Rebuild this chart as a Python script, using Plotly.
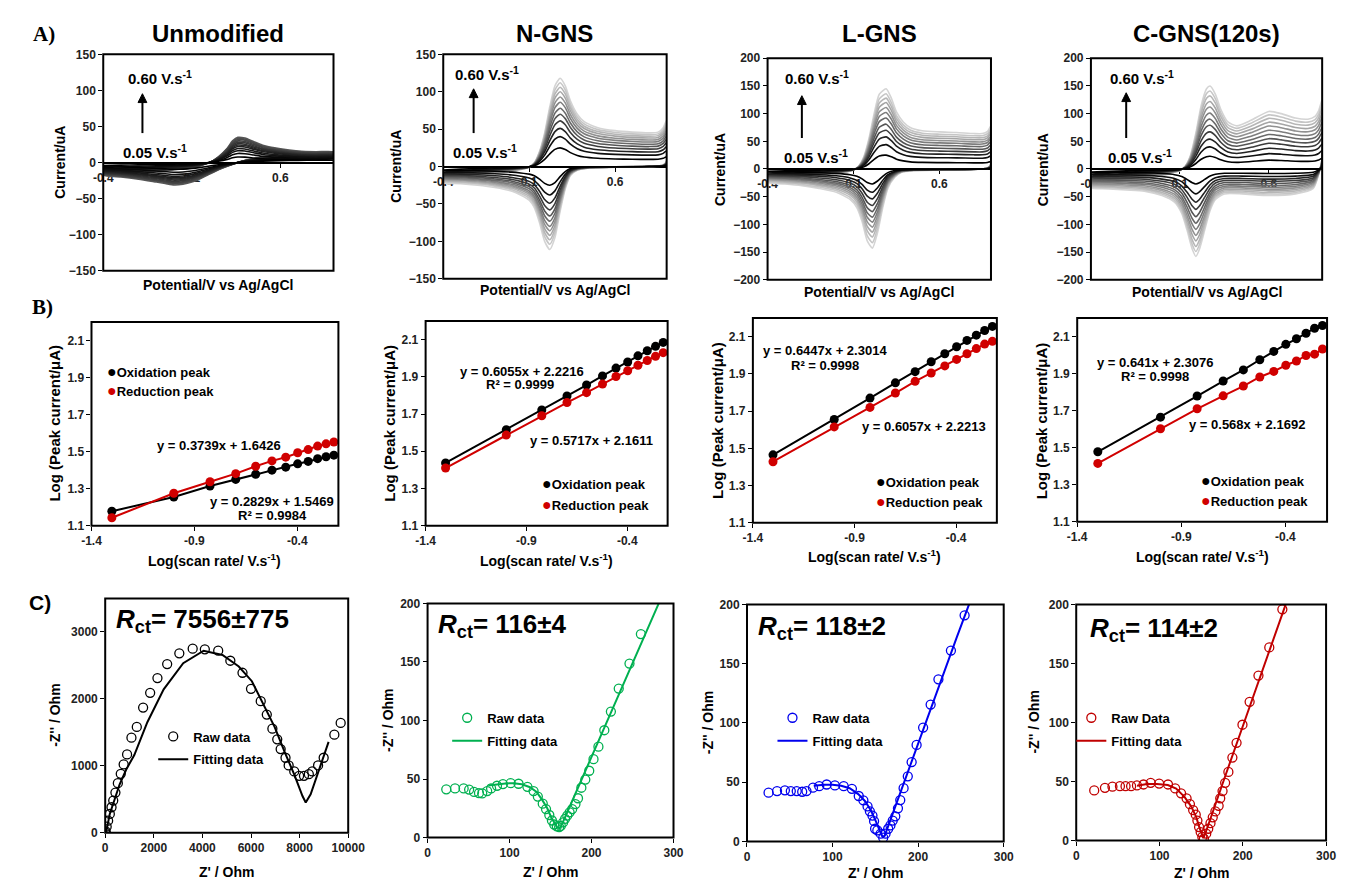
import numpy as np
import plotly.graph_objects as go

# page is 1355x890; the html body keeps its default 8px margin
PAGE_W, PAGE_H, OFF = 1355, 890, 8
W, H = PAGE_W - 2 * OFF, PAGE_H - 2 * OFF
FONT = "Liberation Sans, Arial, Helvetica, sans-serif"
SERIF = "Liberation Serif, Times New Roman, serif"

# ======================= DATA =======================
cv_titles = ["Unmodified", "N-GNS", "L-GNS", "C-GNS(120s)"]
rate_low_label = "0.05 V.s<sup>-1</sup>"
rate_high_label = "0.60 V.s<sup>-1</sup>"

# --- A) CV traces of the fastest scan (0.60 V/s) (uA)
unmod_E_fwd = [-0.4, -0.3, -0.2, -0.1, 0.0, 0.1, 0.15, 0.2, 0.25, 0.3, 0.33, 0.36, 0.4, 0.45, 0.5, 0.6, 0.7, 0.8, 0.9]
unmod_I_fwd = [-18, -16, -14, -12, -10, -7, -4, 0, 8, 20, 30, 35, 34, 29, 24, 19, 16, 15, 15]
unmod_E_rev = [0.9, 0.8, 0.7, 0.6, 0.5, 0.4, 0.3, 0.25, 0.2, 0.15, 0.1, 0.05, 0.0, -0.05, -0.1, -0.2, -0.3, -0.4]
unmod_I_rev = [12, 11, 10, 9, 7, 3, -5, -10, -16, -22, -27, -30, -31, -29, -27, -23, -20, -18]
unmod_ox_peaks = [8, 13, 17, 20, 23, 25, 27, 29, 31, 33, 34.5, 36]
unmod_red_peaks = [9, 13, 16, 18.5, 20.5, 22, 23.5, 25, 26.5, 27.5, 28.5, 30]

ngns_E_fwd = [-0.4, -0.3, -0.2, -0.1, 0.0, 0.05, 0.1, 0.13, 0.16, 0.19, 0.22, 0.25, 0.28, 0.31, 0.34, 0.38, 0.42, 0.5, 0.6, 0.7, 0.8, 0.85, 0.88, 0.9]
ngns_I_fwd = [-22, -16, -12, -9, -6, -4, -1, 5, 20, 45, 80, 108, 118, 108, 88, 70, 60, 52, 48, 46, 45, 46, 52, 62]
ngns_E_rev = [0.9, 0.88, 0.8, 0.6, 0.45, 0.38, 0.34, 0.31, 0.28, 0.25, 0.22, 0.19, 0.16, 0.13, 0.1, 0.05, 0.0, -0.1, -0.2, -0.3, -0.4]
ngns_I_rev = [8, 2, 0, -1, -2, -5, -12, -30, -60, -95, -111, -100, -75, -55, -45, -38, -33, -28, -25, -23, -22]
ngns_ox_peaks = [25, 40, 51, 61, 70, 78, 86, 93, 100, 106, 112, 118]
ngns_red_peaks = [25, 38, 49, 58, 66, 73, 80, 86, 92, 98, 104, 111]

lgns_E_fwd = [-0.4, -0.3, -0.2, -0.1, 0.0, 0.05, 0.1, 0.13, 0.16, 0.19, 0.22, 0.25, 0.29, 0.32, 0.35, 0.39, 0.43, 0.5, 0.6, 0.7, 0.8, 0.85, 0.88, 0.9]
lgns_I_fwd = [-25, -20, -16, -13, -9, -6, -2, 5, 22, 55, 100, 135, 145, 128, 103, 85, 75, 69, 67, 66, 64, 64, 68, 78]
lgns_E_rev = [0.9, 0.88, 0.8, 0.6, 0.45, 0.38, 0.34, 0.3, 0.27, 0.24, 0.21, 0.18, 0.15, 0.12, 0.08, 0.0, -0.1, -0.2, -0.3, -0.4]
lgns_I_rev = [10, 2, -1, -2, -3, -6, -15, -35, -70, -115, -143, -130, -95, -70, -55, -42, -35, -30, -27, -25]
lgns_ox_peaks = [25, 44, 58, 70, 81, 92, 102, 111, 120, 128, 136, 145]
lgns_red_peaks = [27, 42, 54, 66, 77, 87, 96, 105, 114, 123, 133, 143]

cgns_E_fwd = [-0.4, -0.3, -0.2, -0.1, 0.0, 0.05, 0.1, 0.13, 0.16, 0.19, 0.22, 0.25, 0.27, 0.3, 0.33, 0.37, 0.42, 0.5, 0.6, 0.67, 0.75, 0.82, 0.86, 0.88, 0.9]
cgns_I_fwd = [-35, -28, -22, -17, -12, -8, -3, 5, 25, 65, 115, 145, 150, 135, 108, 85, 78, 88, 104, 100, 92, 90, 95, 105, 125]
cgns_E_rev = [0.9, 0.88, 0.85, 0.75, 0.6, 0.45, 0.35, 0.3, 0.27, 0.24, 0.21, 0.19, 0.17, 0.14, 0.11, 0.07, 0.0, -0.1, -0.2, -0.3, -0.4]
cgns_I_rev = [20, -10, -35, -45, -48, -45, -45, -55, -75, -110, -145, -158, -145, -110, -80, -60, -48, -40, -38, -36, -35]
cgns_ox_peaks = [23, 40, 54, 67, 79, 90, 101, 112, 122, 132, 141, 150]
cgns_red_peaks = [27, 45, 60, 73, 86, 98, 109, 120, 130, 140, 149, 158]

gray_unmod = [0, 8, 16, 24, 32, 40, 48, 56, 64, 72, 80, 88]
gray_gns = [0, 15, 35, 60, 85, 105, 125, 145, 165, 182, 198, 212]

# --- B) log peak current vs log scan rate
log_scan = [-1.301, -1.000, -0.824, -0.699, -0.602, -0.523, -0.456, -0.398, -0.347, -0.301, -0.260, -0.222]
unmod_log_ox = [1.178, 1.255, 1.314, 1.350, 1.378, 1.400, 1.416, 1.434, 1.447, 1.462, 1.472, 1.481]
unmod_log_red = [1.143, 1.275, 1.337, 1.381, 1.421, 1.450, 1.470, 1.494, 1.511, 1.530, 1.542, 1.552]
ngns_log_ox = [1.437, 1.616, 1.722, 1.797, 1.856, 1.905, 1.947, 1.980, 2.013, 2.040, 2.064, 2.085]
ngns_log_red = [1.410, 1.587, 1.691, 1.762, 1.815, 1.861, 1.902, 1.933, 1.962, 1.988, 2.010, 2.030]
lgns_log_ox = [1.465, 1.655, 1.770, 1.852, 1.912, 1.965, 2.008, 2.046, 2.080, 2.108, 2.133, 2.155]
lgns_log_red = [1.428, 1.615, 1.720, 1.797, 1.860, 1.905, 1.943, 1.978, 2.008, 2.036, 2.060, 2.075]
cgns_log_ox = [1.478, 1.665, 1.779, 1.860, 1.920, 1.975, 2.020, 2.058, 2.088, 2.118, 2.145, 2.160]
cgns_log_red = [1.415, 1.602, 1.710, 1.780, 1.833, 1.882, 1.912, 1.945, 1.968, 1.998, 2.005, 2.033]

unmod_eq = ["y = 0.2829x + 1.5469", "R² = 0.9984", "y = 0.3739x + 1.6426"]
ngns_eq = ["y = 0.6055x + 2.2216", "R² = 0.9999", "y = 0.5717x + 2.1611"]
lgns_eq = ["y = 0.6447x + 2.3014", "R² = 0.9998", "y = 0.6057x + 2.2213"]
cgns_eq = ["y = 0.641x + 2.3076", "R² = 0.9998", "y = 0.568x + 2.1692"]

# --- C) Nyquist plots (Z', -Z'')
unmod_raw_z = [5, 20, 60, 120, 190, 260, 330, 420, 520, 640, 760, 900, 1080, 1300, 1560, 1850, 2150, 2550, 3050, 3600, 4100, 4650, 5150, 5650, 6000, 6400, 6650, 6880, 7080, 7220, 7420, 7550, 7780, 7980, 8180, 8380, 8520, 8760, 8990, 9430, 9690]
unmod_raw_zi = [5, 20, 90, 180, 280, 380, 480, 600, 740, 880, 1020, 1170, 1420, 1580, 1870, 2090, 2310, 2520, 2680, 2750, 2740, 2720, 2570, 2390, 2150, 1965, 1765, 1555, 1395, 1250, 1120, 1005, 915, 850, 850, 875, 915, 1005, 1120, 1465, 1640]
unmod_fit_z = [0, 53, 188, 363, 591, 860, 1197, 1734, 2406, 3210, 4050, 4825, 5497, 6036, 6572, 6975, 7379, 7782, 8118, 8252, 8454, 8857, 9193]
unmod_fit_zi = [0, 34, 279, 475, 720, 941, 1161, 1651, 2142, 2533, 2720, 2656, 2484, 2264, 1871, 1577, 1210, 867, 548, 451, 573, 1014, 1357]

ngns_raw_z = [22.8, 33.5, 44.0, 50.7, 56.7, 62.7, 66.7, 72.7, 77.5, 84.7, 91.9, 101.4, 111.0, 121.8, 129.3, 134.5, 140.5, 144.5, 148.5, 151.7, 154.5, 157.7, 160.5, 162.5, 165.3, 167.7, 170.4, 173.3, 176.4, 180.4, 183.5, 187.6, 192.4, 197.2, 202.4, 208.4, 215.6, 223.6, 233.2, 246.3, 260.2]
ngns_raw_zi = [41.2, 42.0, 42.0, 41.0, 39.0, 38.0, 37.7, 39.7, 42.0, 44.3, 45.7, 46.5, 46.0, 43.4, 39.7, 35.0, 29.0, 24.4, 19.3, 14.6, 11.2, 9.6, 9.0, 10.0, 13.0, 16.0, 18.8, 21.6, 24.4, 28.6, 33.6, 42.6, 49.6, 57.1, 67.0, 77.7, 91.7, 107.6, 127.3, 148.6, 173.8]
ngns_fit_z = [74, 85, 95, 105, 115, 125, 133, 140, 146, 151, 155, 158, 160.5, 163, 170, 180, 200, 220, 240, 260, 282]
ngns_fit_zi = [44.5, 45.5, 46.3, 46.5, 45.5, 43, 39, 32, 25, 17, 12, 9, 8, 10, 21, 37, 69, 101, 133, 165, 200]

lgns_raw_z = [25.2, 35.1, 44.3, 51.2, 58.1, 64.5, 69.5, 77.1, 84.4, 93.1, 102.7, 113.0, 122.6, 130.6, 136.0, 140.9, 143.6, 146.6, 148.5, 149.7, 152.3, 156.2, 159.2, 161.9, 165.0, 167.6, 170.3, 173.3, 176.4, 179.1, 183.0, 187.9, 192.4, 198.2, 205.8, 214.6, 223.7, 238.3, 254.3]
lgns_raw_zi = [41.2, 42.6, 43.2, 42.6, 42.6, 42.0, 42.6, 45.4, 46.7, 48.1, 47.3, 46.7, 44.5, 38.4, 34.8, 29.6, 25.5, 21.9, 17.2, 10.8, 9.4, 6.6, 3.3, 6.6, 10.8, 13.6, 17.7, 21.3, 28.0, 35.0, 45.0, 55.0, 67.0, 81.5, 96.1, 115.5, 136.8, 161.1, 190.8]
lgns_fit_z = [78, 90, 100, 110, 120, 130, 138, 145, 150, 154, 157, 159, 161, 165, 175, 190, 210, 230, 245, 259.5]
lgns_fit_zi = [47, 48, 48, 47, 45, 40, 34, 26, 18, 11, 6, 4, 5, 13, 33, 63, 103, 142, 172, 200]

cgns_raw_z = [21.6, 34.5, 43.5, 52.5, 59.2, 65.9, 72.9, 80.8, 89.4, 99.6, 110.2, 118.8, 125.9, 132.5, 136.5, 140.4, 143.5, 145.5, 147.5, 149.4, 151.4, 153.3, 156.1, 158.5, 161.2, 163.9, 167.1, 171.0, 172.9, 175.7, 178.8, 182.7, 187.5, 192.5, 199.6, 208.2, 218.8, 231.8, 247.5]
cgns_raw_zi = [42.5, 44.7, 45.6, 46.1, 46.1, 46.1, 46.7, 47.5, 48.9, 48.3, 47.5, 44.2, 40.0, 35.8, 30.8, 25.8, 21.9, 16.9, 11.4, 7.2, 3.1, 1.7, 5.8, 10.0, 14.7, 19.7, 24.7, 29.4, 35.8, 41.9, 48.9, 58.1, 70.3, 82.8, 98.1, 117.5, 139.7, 163.6, 195.8]
cgns_fit_z = [73, 85, 97, 110, 120, 130, 138, 144, 148, 151, 152.6, 155, 165, 180, 200, 220, 240, 251.4]
cgns_fit_zi = [46.5, 47.8, 48, 47, 44, 37, 29, 20, 11, 5, 2, 6, 26.8, 56.8, 96.8, 136.8, 176.8, 199.8]

rct_labels = ["7556±775", "116±4", "118±2", "114±2"]
raw_names = ["Raw data", "Raw data", "Raw data", "Raw Data"]
eis_colors = ["#000000", "#00b050", "#0000ee", "#c00000"]

# ======================= LAYOUT GEOMETRY (page pixels) =======================
frames_A = [(95, 330, 48, 268), (442, 670, 48, 276), (773, 1001, 52, 277), (1103, 1339, 52, 277)]
frames_B = [(83, 335, 320, 527), (424, 671, 319, 527), (758, 1007, 316, 524), (1089, 1344, 316, 523)]
frames_C = [(97, 345, 601, 839), (426, 677, 606, 844), (752, 1014, 607, 848), (1088, 1343, 607, 847)]


def fx(x):
    return (x - OFF) / W


def fy(y):
    return 1 - (y - OFF) / H


def xn(p):
    return "x" if p == 1 else f"x{p}"


def yn(p):
    return "y" if p == 1 else f"y{p}"


def xk(p):
    return "xaxis" if p == 1 else f"xaxis{p}"


def yk(p):
    return "yaxis" if p == 1 else f"yaxis{p}"


fig = go.Figure()
layout = {}
annotations = []
shapes = []
TICKFONT = dict(family=FONT, size=12, color="#222222", weight="bold")


def ann(text, x, y, size=13, xanchor="center", yanchor="middle", angle=0,
        family=FONT, color="black", bold=True):
    annotations.append(dict(text=text, x=fx(x), y=fy(y), xref="paper", yref="paper",
                            xanchor=xanchor, yanchor=yanchor, textangle=angle,
                            showarrow=False,
                            font=dict(family=family, size=size, color=color,
                                      weight="bold" if bold else "normal")))


def frame(p):
    shapes.append(dict(type="rect", xref=f"{xn(p)} domain", yref=f"{yn(p)} domain",
                       x0=0, x1=1, y0=0, y1=1, line=dict(color="black", width=2),
                       layer="above"))


def up_arrow(x, y_tail, y_head):
    shapes.append(dict(type="line", xref="paper", yref="paper",
                       x0=fx(x), x1=fx(x), y0=fy(y_tail), y1=fy(y_head + 6),
                       line=dict(color="black", width=2), layer="above"))
    path = (f"M {fx(x - 4.5)},{fy(y_head + 9)} L {fx(x)},{fy(y_head)} "
            f"L {fx(x + 4.5)},{fy(y_head + 9)} Z")
    shapes.append(dict(type="path", xref="paper", yref="paper", path=path,
                       fillcolor="black", line=dict(color="black", width=1), layer="above"))


# ======================= ROW A =======================
cv_sets = [
    (unmod_E_fwd, unmod_I_fwd, unmod_E_rev, unmod_I_rev, unmod_ox_peaks, unmod_red_peaks, gray_unmod, (-150, 150)),
    (ngns_E_fwd, ngns_I_fwd, ngns_E_rev, ngns_I_rev, ngns_ox_peaks, ngns_red_peaks, gray_gns, (-150, 150)),
    (lgns_E_fwd, lgns_I_fwd, lgns_E_rev, lgns_I_rev, lgns_ox_peaks, lgns_red_peaks, gray_gns, (-200, 200)),
    (cgns_E_fwd, cgns_I_fwd, cgns_E_rev, cgns_I_rev, cgns_ox_peaks, cgns_red_peaks, gray_gns, (-200, 200)),
]
arrow_pos = [(135, 128, 88), (473, 128, 83), (808, 133, 90), (1139, 133, 87)]
hi_lbl = [(153, 72), (487, 67), (823, 72), (1155, 72)]
lo_lbl = [(148, 147), (485, 147), (822, 152), (1153, 152)]
ytitle_A = [(50, 158), (393, 162), (725, 165), (1055, 165)]
xtitle_A_y = [282, 287, 290, 290]
title_y = [27, 27, 27, 27]

for k in range(4):
    p = k + 1
    Ef, If, Er, Ir, oxp, redp, grays, yr = cv_sets[k]
    l, r, t, b = frames_A[k]
    for i in reversed(range(12)):
        sf = oxp[i] / oxp[-1]
        sr = redp[i] / redp[-1]
        xs = list(Ef) + list(Er)
        ys = list(np.array(If) * sf) + list(np.array(Ir) * sr)
        g = grays[i]
        fig.add_trace(go.Scatter(x=xs, y=ys, mode="lines", xaxis=xn(p), yaxis=yn(p),
                                 line=dict(color=f"rgb({g},{g},{g})", width=1.6,
                                           shape="spline", smoothing=0.6),
                                 showlegend=False, hoverinfo="skip"))
    zero_frac = fy(t + (yr[1] - 0) / (yr[1] - yr[0]) * (b - t))
    layout[xk(p)] = dict(domain=[fx(l), fx(r)], range=[-0.4, 0.9],
                         tickvals=[-0.4, 0.1, 0.6], ticktext=["-0.4", "0.1", "0.6"],
                         anchor="free", position=zero_frac, showline=True,
                         linecolor="black", linewidth=2, ticks="outside", ticklen=4,
                         tickcolor="black", tickfont=TICKFONT, showgrid=False,
                         zeroline=False, layer="below traces")
    layout[yk(p)] = dict(domain=[fy(b), fy(t)], range=list(yr), dtick=50, tick0=0,
                         anchor=xn(p), showline=False, ticks="outside", ticklen=4,
                         tickcolor="black", tickfont=TICKFONT, showgrid=False,
                         zeroline=False)
    frame(p)
    ann(cv_titles[k], (l + r) / 2, title_y[k], size=24)
    ann("Current/uA", ytitle_A[k][0], ytitle_A[k][1], size=14, angle=-90)
    ann("Potential/V vs Ag/AgCl", (l + r) / 2, xtitle_A_y[k], size=14)
    ann(rate_high_label, hi_lbl[k][0], hi_lbl[k][1], size=15)
    ann(rate_low_label, lo_lbl[k][0], lo_lbl[k][1], size=15)
    up_arrow(*arrow_pos[k])

# ======================= ROW B =======================
b_sets = [
    (unmod_log_ox, unmod_log_red, unmod_eq),
    (ngns_log_ox, ngns_log_red, ngns_eq),
    (lgns_log_ox, lgns_log_red, lgns_eq),
    (cgns_log_ox, cgns_log_red, cgns_eq),
]
eq_pos = [
    [(267, 502), (268, 517), (213, 445)],
    [(522, 370), (520, 384), (593, 440)],
    [(832, 349), (832, 364), (933, 426)],
    [(1168, 361), (1168, 375), (1262, 424)],
]
leg_B = [(104, 370, 390), (548, 484, 505), (889, 482, 502), (1220, 481, 501)]
ytitle_B = [(45, 423), (387, 423), (722, 420), (1052, 420)]
xtitle_B_y = [562, 562, 558, 558]
RED_B = "#d00000"

for k in range(4):
    p = k + 5
    ox, red, eqs = b_sets[k]
    l, r, t, b = frames_B[k]
    for vals, col in ((ox, "black"), (red, RED_B)):
        fig.add_trace(go.Scatter(x=log_scan, y=vals, mode="lines", xaxis=xn(p), yaxis=yn(p),
                                 line=dict(color=col, width=2), showlegend=False,
                                 hoverinfo="skip"))
        fig.add_trace(go.Scatter(x=log_scan, y=vals, mode="markers", xaxis=xn(p), yaxis=yn(p),
                                 marker=dict(color=col, size=9), showlegend=False,
                                 hoverinfo="skip"))
    layout[xk(p)] = dict(domain=[fx(l), fx(r)], range=[-1.4, -0.2],
                         tickvals=[-1.4, -0.9, -0.4], ticktext=["-1.4", "-0.9", "-0.4"],
                         anchor=yn(p), showline=False, ticks="outside", ticklen=4,
                         tickcolor="black", tickfont=TICKFONT, showgrid=False, zeroline=False)
    layout[yk(p)] = dict(domain=[fy(b), fy(t)], range=[1.1, 2.2],
                         tickvals=[1.1, 1.3, 1.5, 1.7, 1.9, 2.1],
                         ticktext=["1.1", "1.3", "1.5", "1.7", "1.9", "2.1"],
                         anchor=xn(p), showline=False, ticks="outside", ticklen=4,
                         tickcolor="black", tickfont=TICKFONT, showgrid=False, zeroline=False)
    frame(p)
    for txt, (ex, ey) in zip(eqs, eq_pos[k]):
        ann(txt, ex, ey, size=13)
    mx, my1, my2 = leg_B[k]
    ann("<span style='color:black;font-size:16px'>●</span>Oxidation peak", mx - 7, my1,
        size=13, xanchor="left")
    ann(f"<span style='color:{RED_B};font-size:16px'>●</span>Reduction peak", mx - 7, my2,
        size=13, xanchor="left")
    ann("Log (Peak current/μA)", ytitle_B[k][0], ytitle_B[k][1], size=15, angle=-90)
    ann("Log(scan rate/ V.s<sup>-1</sup>)", (l + r) / 2, xtitle_B_y[k], size=14)

# ======================= ROW C =======================
c_sets = [
    (unmod_raw_z, unmod_raw_zi, unmod_fit_z, unmod_fit_zi),
    (ngns_raw_z, ngns_raw_zi, ngns_fit_z, ngns_fit_zi),
    (lgns_raw_z, lgns_raw_zi, lgns_fit_z, lgns_fit_zi),
    (cgns_raw_z, cgns_raw_zi, cgns_fit_z, cgns_fit_zi),
]
rct_pos = [(106, 623), (435, 628), (761, 630), (1100, 633)]
leg_C = [(168, 742), (468, 723), (800, 723), (1105, 723)]
ytitle_C = [(45, 720), (385, 725), (713, 727), (1045, 727)]
xtitle_C_y = [879, 879, 880, 880]

for k in range(4):
    p = k + 9
    rz, rzi, fz, fzi = c_sets[k]
    l, r, t, b = frames_C[k]
    col = eis_colors[k]
    lg = "legend" if k == 0 else f"legend{k + 1}"
    fig.add_trace(go.Scatter(x=rz, y=rzi, mode="markers", xaxis=xn(p), yaxis=yn(p),
                             name=raw_names[k], legend=lg, legendgroup=f"raw{k}",
                             marker=dict(symbol="circle-open", color=col, size=9,
                                         line=dict(width=1.3, color=col)),
                             hoverinfo="skip"))
    fig.add_trace(go.Scatter(x=fz, y=fzi, mode="lines", xaxis=xn(p), yaxis=yn(p),
                             name="Fitting data", legend=lg, legendgroup=f"fit{k}",
                             line=dict(color=col, width=2), hoverinfo="skip"))
    if k == 0:
        xr, xt, yr_, yt = [0, 10000], [0, 2000, 4000, 6000, 8000, 10000], [0, 3500], [0, 1000, 2000, 3000]
    else:
        xr, xt, yr_, yt = [0, 300], [0, 100, 200, 300], [0, 200], [0, 50, 100, 150, 200]
    layout[xk(p)] = dict(domain=[fx(l), fx(r)], range=xr, tickvals=xt,
                         ticktext=[str(v) for v in xt],
                         anchor=yn(p), showline=False, ticks="outside", ticklen=4,
                         tickcolor="black", tickfont=TICKFONT, showgrid=False, zeroline=False)
    layout[yk(p)] = dict(domain=[fy(b), fy(t)], range=yr_, tickvals=yt,
                         ticktext=[str(v) for v in yt],
                         anchor=xn(p), showline=False, ticks="outside", ticklen=4,
                         tickcolor="black", tickfont=TICKFONT, showgrid=False, zeroline=False)
    frame(p)
    mx, my = leg_C[k]
    layout[lg] = dict(x=fx(mx - 22), y=fy(my - 16), xanchor="left", yanchor="top",
                      bgcolor="rgba(0,0,0,0)", borderwidth=0, itemwidth=30,
                      tracegroupgap=3, itemclick=False, itemdoubleclick=False,
                      font=dict(family=FONT, size=13, color="black", weight="bold"))
    ann(f"<i>R</i><sub>ct</sub>= {rct_labels[k]}", rct_pos[k][0], rct_pos[k][1], size=26,
        xanchor="left")
    ann("-Z'' / Ohm", ytitle_C[k][0], ytitle_C[k][1], size=14, angle=-90)
    ann("Z' / Ohm", (l + r) / 2, xtitle_C_y[k], size=14)

# Panel letters
ann("A)", 35, 27, size=21, family=SERIF)
ann("B)", 33, 305, size=21, family=SERIF)
ann("C)", 30, 605, size=21)

fig.update_layout(width=W, height=H, margin=dict(l=0, r=0, t=0, b=0),
                  paper_bgcolor="white", plot_bgcolor="rgba(0,0,0,0)",
                  annotations=annotations, shapes=shapes, showlegend=True,
                  **layout)

fig.write_html("out.html", config={"displayModeBar": False})
